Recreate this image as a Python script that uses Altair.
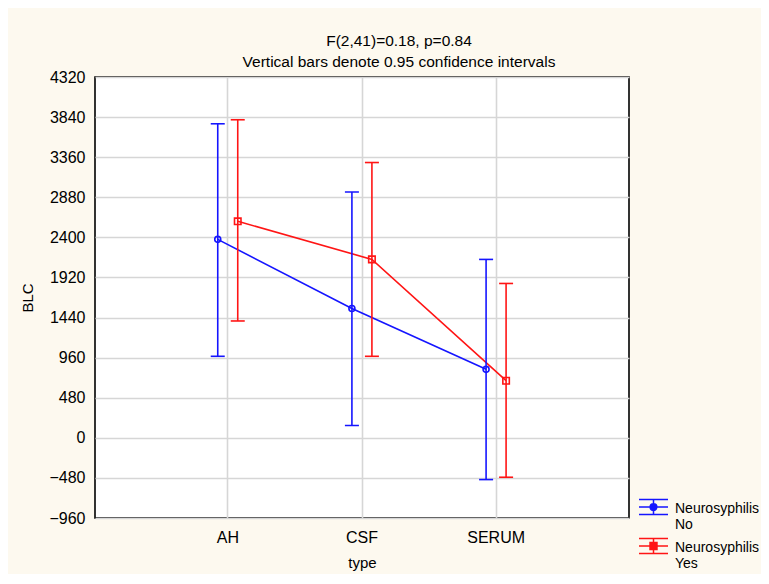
import altair as alt
import pandas as pd

types = ["AH", "CSF", "SERUM"]
groups = ["No", "Yes"]
mean_no = [2376, 1548, 820]
low_no = [976, 148, -500]
high_no = [3760, 2944, 2136]
mean_yes = [2592, 2136, 684]
low_yes = [1399, 976, -472]
high_yes = [3808, 3296, 1848]
y_ticks = list(range(-960, 4321, 480))
colors = ["#1515ff", "#ff1515"]

rows = []
for g, m, lo, hi in [("No", mean_no, low_no, high_no), ("Yes", mean_yes, low_yes, high_yes)]:
    for t, a, b, c in zip(types, m, lo, hi):
        rows.append({"type": t, "group": g, "mean": a, "low": b, "high": c})
df = pd.DataFrame(rows)

FONT = "Liberation Sans"

x_enc = alt.X(
    "type:N",
    scale=alt.Scale(domain=types, paddingInner=0, paddingOuter=0.49),
    axis=alt.Axis(title="type", labelAngle=0, bandPosition=0.5, grid=True, ticks=False,
                  domain=False, labelPadding=11, titlePadding=10),
)
xo_enc = alt.XOffset("group:N", scale=alt.Scale(domain=groups, range=[47, 87]))
y_scale = alt.Scale(domain=[-960, 4320], nice=False, zero=False)
y_axis = alt.Axis(values=y_ticks, title="BLC", grid=True, ticks=False, domain=False,
                  labelPadding=10, titlePadding=13, format="d")
c_scale = alt.Scale(domain=groups, range=colors)
c_enc = alt.Color("group:N", scale=c_scale, legend=None)

base = alt.Chart(df)

line = base.mark_line(strokeWidth=1.6).encode(
    x=x_enc, xOffset=xo_enc, y=alt.Y("mean:Q", scale=y_scale, axis=y_axis), color=c_enc
)
rules = base.mark_rule(strokeWidth=1.6).encode(
    x=x_enc, xOffset=xo_enc, y=alt.Y("low:Q", scale=y_scale), y2="high:Q", color=c_enc
)
cap_hi = base.mark_tick(size=14, thickness=1.6, opacity=1).encode(
    x=x_enc, xOffset=xo_enc, y=alt.Y("high:Q", scale=y_scale), color=c_enc
)
cap_lo = base.mark_tick(size=14, thickness=1.6, opacity=1).encode(
    x=x_enc, xOffset=xo_enc, y=alt.Y("low:Q", scale=y_scale), color=c_enc
)
pts_no = base.transform_filter("datum.group == 'No'").mark_point(
    shape="circle", size=36, filled=False, strokeWidth=1.6, opacity=1
).encode(x=x_enc, xOffset=xo_enc, y=alt.Y("mean:Q", scale=y_scale), color=c_enc)
pts_yes = base.transform_filter("datum.group == 'Yes'").mark_point(
    shape="square", size=42, filled=False, strokeWidth=1.6, opacity=1
).encode(x=x_enc, xOffset=xo_enc, y=alt.Y("mean:Q", scale=y_scale), color=c_enc)

path_no = ("M-1,-0.62H1M-1,-0.1H1M-1,0.42H1M0,-0.62V0.42"
           "M0.23,-0.1A0.23,0.23,0,1,1,-0.23,-0.1A0.23,0.23,0,1,1,0.23,-0.1Z")
path_yes = ("M-1,-0.62H1M-1,-0.1H1M-1,0.42H1M0,-0.62V0.42"
            "M-0.24,-0.34H0.24V0.14H-0.24Z")

leg = alt.Legend(
    title=None, orient="none", legendX=543, legendY=416,
    labelExpr="['Neurosyphilis', datum.label]",
    labelFont=FONT, labelFontSize=14, labelColor="black", labelBaseline="middle",
    symbolSize=841, symbolStrokeWidth=1.5, symbolFillColor="transparent",
    labelOffset=6, rowPadding=0, padding=0, labelLimit=300,
)
legend_layer = base.transform_filter("false").mark_point(
    filled=False, strokeWidth=1.5, opacity=1, size=841
).encode(
    x=x_enc, xOffset=xo_enc, y=alt.Y("mean:Q", scale=y_scale),
    color=alt.Color("group:N", scale=c_scale, legend=leg),
    shape=alt.Shape("group:N", scale=alt.Scale(domain=groups, range=[path_no, path_yes]), legend=leg),
)

chart = alt.layer(legend_layer, line, rules, cap_hi, cap_lo, pts_no, pts_yes).properties(
    width=534,
    height=441,
    autosize=alt.AutoSizeParams(type="none"),
    padding={"left": 87, "top": 69, "right": 132, "bottom": 56},
    background="#fdf9ef",
    title=alt.Title(
        text=["F(2,41)=0.18, p=0.84", "Vertical bars denote 0.95 confidence intervals"],
        font=FONT, fontSize=15.5, fontWeight="normal", color="black",
        anchor="middle", dx=37, dy=9, lineHeight=21, offset=8,
    ),
).configure_view(
    stroke="black", strokeWidth=1.6, fill="white"
).configure_axis(
    gridColor="#d6d6d6", gridWidth=1.6, labelFont=FONT, titleFont=FONT,
    labelFontSize=16, titleFontSize=15, titleFontWeight="normal",
    labelColor="black", titleColor="black",
)

chart.save("out.html", embed_options={"renderer": "svg", "actions": False})
